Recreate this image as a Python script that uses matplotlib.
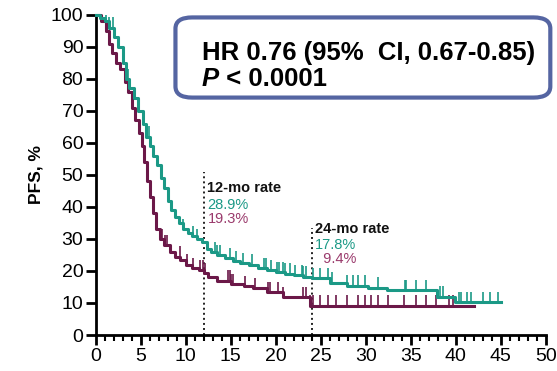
import numpy as np
import matplotlib.pyplot as plt
from matplotlib.patches import FancyBboxPatch
from matplotlib.text import Annotation

# step curve data (months, PFS %)
teal_t = [0, 0.5, 1, 1.5, 2, 2.5, 3, 3.3, 3.7, 4.2, 4.7, 5.2, 5.6, 6, 6.4, 6.8, 7.2, 7.6,
          8, 8.4, 8.8, 9.2, 9.7, 10.2, 10.7, 11.2, 11.8, 12.3, 12.8, 13.5, 14.3, 15.2, 16,
          17, 18, 19, 20, 21, 22, 23, 24, 26, 27.9, 30.2, 32.3, 37.9, 39.9]
teal_s = [100, 99, 98, 96, 93, 90, 85, 80, 77, 74, 70, 66, 62, 59, 56, 53, 49, 46,
          42, 39, 37, 35, 33, 32, 31, 30, 28.9, 27, 26, 25, 24, 23, 22.5,
          22, 21, 20.3, 19.7, 19.2, 18.6, 18.2, 17.8, 16.4, 15.4, 14.8, 14.0, 12.0, 10.3]
teal_end = 45

purple_t = [0, 0.6, 1.1, 1.5, 1.8, 2.2, 2.7, 3.2, 3.6, 4, 4.4, 4.8, 5.1, 5.4, 5.7, 6, 6.3,
            6.7, 7.1, 7.6, 8.2, 8.8, 9.4, 10, 10.7, 11.5, 12, 12.5, 13.5, 15, 16.5, 17.5,
            19, 20.8, 23.8]
purple_s = [100, 98, 95, 91, 88, 85, 83, 79, 76, 71, 67, 63, 59, 54, 48, 43, 38,
            33, 30, 28, 26, 24.5, 23.5, 22, 21, 20.2, 19.3, 18, 17, 16, 15.3, 14.6,
            13.5, 11.8, 9.2]
purple_end = 42

teal_cens = [1.1, 1.5, 1.9, 3.6, 4.2, 4.8, 5.2, 5.9, 9.7, 10.8, 11.2, 13.2, 13.5, 13.8,
             14.9, 15.6, 16.3, 17.3, 18.7, 18.9, 19.5, 20.1, 20.4, 20.8, 21.0, 21.6, 22.1,
             22.9, 23.0, 23.4, 24.1, 24.9, 25.8, 26.2, 27.9, 28.6, 29.1, 29.9, 31.4, 34.3,
             34.5, 35.6, 36.7, 38.2, 38.6, 40.3, 40.6, 41.2, 41.7, 43.0, 43.8, 44.7]
purple_cens = [6.1, 7.4, 7.7, 7.9, 9.3, 10.1, 10.8, 11.6, 11.9, 12.1, 14.7, 14.9, 15.0,
               15.2, 16.6, 17.7, 19.1, 19.3, 20.2, 20.8, 23.0, 23.4, 23.8, 24.1, 24.9,
               25.8, 26.7, 27.9, 29.1, 29.9, 30.6, 31.4, 32.5, 34.2, 35.6, 36.7, 37.8,
               39.2, 39.7]

teal = '#1b9986'
purple = '#6b1848'
purple_txt = '#9a3a6c'
FONT = 'Liberation Sans'

fig = plt.figure(figsize=(5.57, 3.71), dpi=100)
ax = fig.add_axes([0.172, 0.097, 0.808, 0.863])


def draw_curve(t, s, end, cens, color):
    tt = list(t) + [end]
    ss = list(s) + [s[-1]]
    ax.step(tt, ss, where='post', color=color, lw=2.2, clip_on=False, zorder=3)
    idx = np.searchsorted(t, cens, side='right') - 1
    lvl = np.array(s)[idx]
    ax.vlines(cens, lvl, lvl + 3.2, color=color, lw=1.2, zorder=3)


draw_curve(purple_t, purple_s, purple_end, purple_cens, purple)
draw_curve(teal_t, teal_s, teal_end, teal_cens, teal)

# landmark lines
ax.plot([12, 12], [0, 51], ls=(0, (1, 1.6)), color='#222222', lw=1.4, zorder=2)
ax.plot([24, 24], [0, 33.5], ls=(0, (1, 1.6)), color='#222222', lw=1.4, zorder=2)

fs = 10.5
ax.text(12.4, 45.8, '12-mo rate', fontsize=fs, fontweight='bold', color='#111111',
        va='center', family=FONT)
ax.text(12.4, 40.7, '28.9%', fontsize=fs, color=teal, va='center', family=FONT)
ax.text(12.4, 36.2, '19.3%', fontsize=fs, color=purple_txt, va='center', family=FONT)
ax.text(24.3, 33.0, '24-mo rate', fontsize=fs, fontweight='bold', color='#111111',
        va='center', family=FONT)
ax.text(24.3, 28.2, '17.8%', fontsize=fs, color=teal, va='center', family=FONT)
ax.text(24.3, 23.6, '  9.4%', fontsize=fs, color=purple_txt, va='center', family=FONT)

ax.set_xlim(0, 50)
ax.set_ylim(0, 100)
ax.set_xticks(range(0, 51, 5))
ax.set_xticks(range(0, 51, 1), minor=True)
ax.set_yticks(range(0, 101, 10))
for sp in ['top', 'right']:
    ax.spines[sp].set_visible(False)
for sp in ['left', 'bottom']:
    ax.spines[sp].set_linewidth(2)
ax.tick_params(axis='both', which='major', length=7, width=2, labelsize=14, pad=2)
ax.tick_params(axis='x', which='minor', length=4, width=1.5)
for lab in ax.get_xticklabels() + ax.get_yticklabels():
    lab.set_family(FONT)
ax.set_ylabel('PFS, %', fontsize=12.5, fontweight='bold', family=FONT, labelpad=5)

# stats box
box = FancyBboxPatch((0.323, 0.745), 0.657, 0.2, boxstyle='round,pad=0.008,rounding_size=0.03',
                     transform=fig.transFigure, facecolor='white', edgecolor='#5565a2',
                     lw=3, zorder=5)
fig.patches.append(box)
bfs = 18.5
fig.text(0.362, 0.858, 'HR 0.76 (95%  CI, 0.67-0.85)', fontsize=bfs, fontweight='bold',
         va='center', family=FONT, zorder=6)
ptxt = fig.text(0.362, 0.786, 'P', fontsize=bfs, fontweight='bold', style='italic',
                va='center', family=FONT, zorder=6)
rest = Annotation(' < 0.0001', xy=(1.0, 0.0), xycoords=ptxt, va='bottom', ha='left',
                  fontsize=bfs, fontweight='bold', family=FONT, zorder=6)
fig.add_artist(rest)

fig.savefig('out.png', dpi=100)
